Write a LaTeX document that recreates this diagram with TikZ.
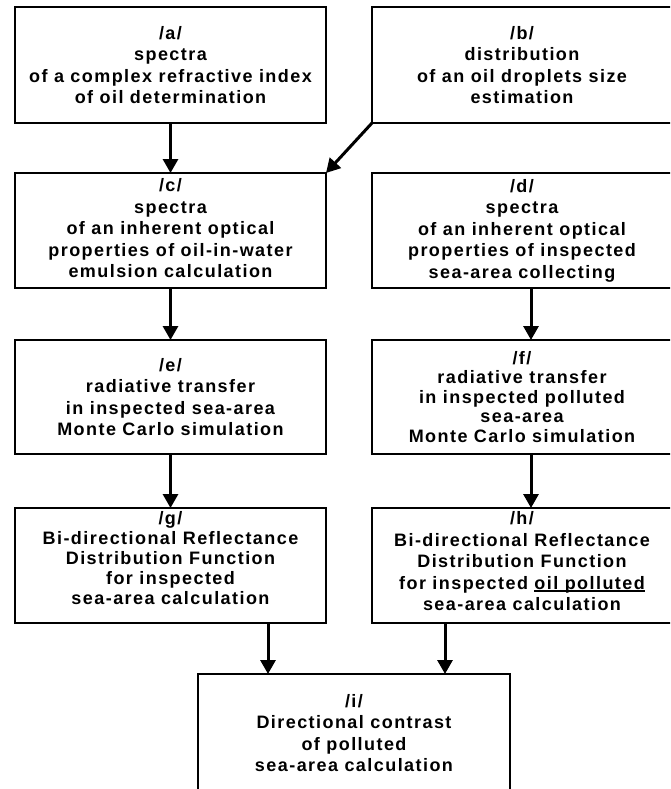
\documentclass[tikz,border=0pt]{standalone}
\usepackage{fontspec}
\setmainfont{Liberation Sans}[LetterSpace=8]
\usetikzlibrary{arrows.meta}
\newcommand\myul[1]{\setbox0\hbox{#1}\rlap{\rule[-2.6pt]{\wd0}{1.6pt}}\box0}
\begin{document}
\begin{tikzpicture}[x=1pt,y=-1pt,
  box/.style={draw, line width=2.5pt, rectangle, inner sep=0pt, outer sep=0pt,
    anchor=north west},
  lbox/.style={box, minimum width=311pt, minimum height=116pt},
  rbox/.style={box, minimum width=300pt, minimum height=116pt},
  txt/.style={align=center, inner sep=0pt, font=\fontsize{18}{21.5}\selectfont\bfseries},
  arr/.style={line width=3pt, -{Triangle[width=15pt,length=14pt]}}]
\useasboundingbox (0,0) rectangle (670,789);
\fill[white] (0,0) rectangle (670,789);
\clip (0,0) rectangle (670,789);

% frames
\node[lbox] (a) at (15,7) {};
\node[rbox] (b) at (372,7) {};
\node[lbox, minimum height=115pt] (c) at (15,173) {};
\node[rbox, minimum height=115pt] (d) at (372,173) {};
\node[lbox, minimum height=114pt] (e) at (15,340) {};
\node[rbox, minimum height=114pt] (f) at (372,340) {};
\node[lbox, minimum height=115pt] (g) at (15,508) {};
\node[rbox, minimum height=115pt] (h) at (372,508) {};
\node[box, minimum width=312pt, minimum height=118pt] (i) at (198,674) {};

% texts
\node[txt] (at) at (a.center) {/a/\\spectra\\of a complex refractive index\\of oil determination};
\node[txt] (bt) at (b.center) {/b/\\distribution\\of an oil droplets size\\estimation};
\node[txt] (ct) at ([yshift=2pt]c.center) {/c/\\spectra\\of an inherent optical\\properties of oil-in-water\\emulsion calculation};
\node[txt] (dt) at (d.center) {/d/\\spectra\\of an inherent optical\\properties of inspected\\sea-area collecting};
\node[txt] (et) at (e.center) {/e/\\radiative transfer\\in inspected sea-area\\Monte Carlo simulation};
\node[txt, font=\fontsize{18}{19.5}\selectfont\bfseries] (ft) at (f.center) {/f/\\radiative transfer\\in inspected polluted\\sea-area\\Monte Carlo simulation};
\node[txt, font=\fontsize{18}{20}\selectfont\bfseries] (gt) at ([yshift=7pt]g.center) {/g/\\Bi-directional Reflectance\\Distribution Function\\for inspected\\sea-area calculation};
\node[txt, font=\fontsize{18}{21.5}\selectfont\bfseries] (ht) at ([yshift=4pt]h.center) {/h/\\Bi-directional Reflectance\\Distribution Function\\for inspected \myul{oil polluted}\\sea-area calculation};
\node[txt] (it) at (i.center) {/i/\\Directional contrast\\of polluted\\sea-area calculation};

% connectors
\draw[arr] (a.south) -- (c.north);
\draw[arr] (b.south west) -- (c.north east);
\draw[arr] (c.south) -- (e.north);
\draw[arr] ([xshift=9pt]d.south) -- ([xshift=9pt]f.north);
\draw[arr] (e.south) -- (g.north);
\draw[arr] ([xshift=9pt]f.south) -- ([xshift=9pt]h.north);
\draw[arr] ([xshift=97.5pt]g.south) -- ([xshift=97.5pt]g.south |- i.north);
\draw[arr] ([xshift=-77pt]h.south) -- ([xshift=-77pt]h.south |- i.north);
\end{tikzpicture}
\end{document}
